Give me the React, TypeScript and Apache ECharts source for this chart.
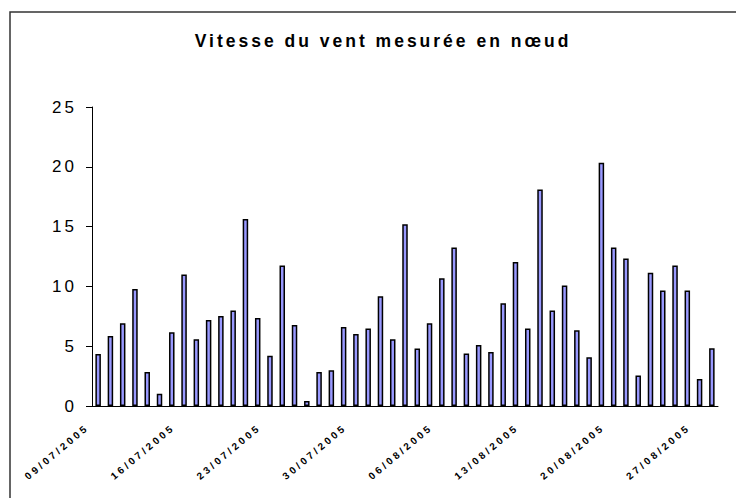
import React, { useEffect, useRef } from "react";
import * as echarts from "echarts";

const TITLE = "Vitesse du vent mesurée en nœud";

const dates: string[] = [
  "09/07/2005", "10/07/2005", "11/07/2005", "12/07/2005", "13/07/2005", "14/07/2005", "15/07/2005",
  "16/07/2005", "17/07/2005", "18/07/2005", "19/07/2005", "20/07/2005", "21/07/2005", "22/07/2005",
  "23/07/2005", "24/07/2005", "25/07/2005", "26/07/2005", "27/07/2005", "28/07/2005", "29/07/2005",
  "30/07/2005", "31/07/2005", "01/08/2005", "02/08/2005", "03/08/2005", "04/08/2005", "05/08/2005",
  "06/08/2005", "07/08/2005", "08/08/2005", "09/08/2005", "10/08/2005", "11/08/2005", "12/08/2005",
  "13/08/2005", "14/08/2005", "15/08/2005", "16/08/2005", "17/08/2005", "18/08/2005", "19/08/2005",
  "20/08/2005", "21/08/2005", "22/08/2005", "23/08/2005", "24/08/2005", "25/08/2005", "26/08/2005",
  "27/08/2005", "28/08/2005",
];

const windSpeed: number[] = [
  4.35, 5.86, 6.92, 9.79, 2.84, 1.03, 6.16,
  10.99, 5.59, 7.19, 7.53, 7.98, 15.64, 7.36,
  4.21, 11.74, 6.78, 0.42, 2.84, 2.98, 6.61,
  6.02, 6.47, 9.17, 5.58, 15.2, 4.8, 6.92,
  10.68, 13.25, 4.38, 5.1, 4.52, 8.59, 12.05,
  6.47, 18.1, 7.98, 10.07, 6.33, 4.07, 20.33,
  13.25, 12.33, 2.54, 11.15, 9.65, 11.74, 9.65,
  2.26, 4.82,
];

const yTicks = { min: 0, max: 25, interval: 5 };

export default function App() {
  const ref = useRef<HTMLDivElement>(null);
  useEffect(() => {
    if (!ref.current) return;
    const chart = echarts.init(ref.current, null, { renderer: "svg" });
    chart.setOption({
      animation: false,
      backgroundColor: "#ffffff",
      textStyle: { fontFamily: "Liberation Sans, Arial, sans-serif" },
      title: {
        text: TITLE,
        left: 378,
        top: 27,
        textAlign: "center",
        textStyle: {
          fontFamily: "Liberation Sans, Arial, sans-serif",
          fontSize: 17.5,
          fontWeight: "bold",
          color: "#000000",
        },
      },
      graphic: [
        {
          type: "rect",
          shape: { x: 10, y: 12, width: 800, height: 600 },
          style: { fill: "none", stroke: "#333333", lineWidth: 1.5 },
          silent: true,
        },
      ],
      grid: { left: 92, right: 18, top: 107, bottom: 92, containLabel: false },
      xAxis: {
        type: "category",
        data: dates,
        boundaryGap: true,
        axisLine: { lineStyle: { color: "#000000", width: 1 } },
        axisTick: { interval: 6, length: 4, alignWithLabel: false, lineStyle: { color: "#000000" } },
        axisLabel: {
          interval: 6,
          rotate: 40,
          margin: 11,
          padding: [0, 14, 0, 0],
          fontSize: 10,
          fontWeight: "bold",
          color: "#000000",
          fontFamily: "Liberation Sans, Arial, sans-serif",
        },
      },
      yAxis: {
        type: "value",
        min: yTicks.min,
        max: yTicks.max,
        interval: yTicks.interval,
        splitLine: { show: false },
        axisLine: { show: true, lineStyle: { color: "#000000", width: 1 } },
        axisTick: { show: true, length: 6, lineStyle: { color: "#000000" } },
        axisLabel: {
          margin: 15,
          fontSize: 17,
          color: "#000000",
          fontFamily: "Liberation Sans, Arial, sans-serif",
        },
      },
      series: [
        {
          type: "bar",
          data: windSpeed,
          barWidth: 5.5,
          itemStyle: { color: "#9999FF", borderColor: "#000000", borderWidth: 1.5 },
        },
      ],
    });
    return () => chart.dispose();
  }, []);
  return (
    <div
      ref={ref}
      style={{
        position: "fixed",
        left: 0,
        top: 0,
        width: 736,
        height: 498,
        letterSpacing: "3px",
      }}
    />
  );
}
